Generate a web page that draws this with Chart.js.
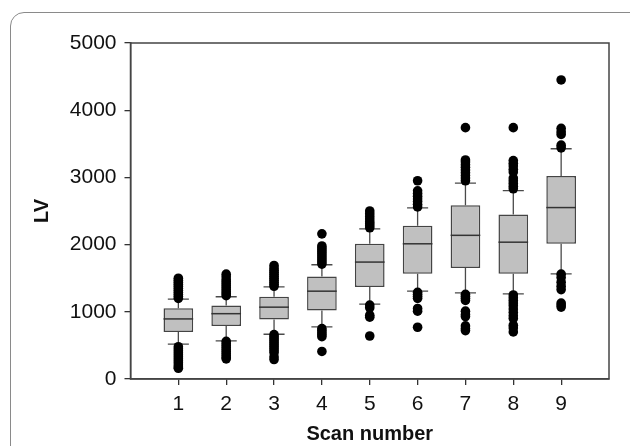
<!DOCTYPE html>
<html>
<head>
<meta charset="utf-8">
<script src="https://cdn.jsdelivr.net/npm/chart.js@4/dist/chart.umd.min.js"></script>
<style>
  html, body { margin: 0; padding: 0; background: #fff; overflow: hidden; }
  #panel { position: absolute; left: 10px; top: 12px; width: 660px; height: 480px;
           border: 1.5px solid #8a8a8a; border-radius: 14px; }
  canvas { position: absolute; left: 0; top: 0; }
</style>
</head>
<body>
<div id="panel"></div>
<canvas id="c" width="630" height="446"></canvas>
<script>
const scans = [1, 2, 3, 4, 5, 6, 7, 8, 9];
const q1 = [700, 787, 884, 1020, 1370, 1565, 1652, 1565, 2012];
const q3 = [1054, 1093, 1224, 1526, 2012, 2279, 2585, 2449, 3022];
const medians = [894, 972, 1069, 1307, 1740, 2012, 2138, 2036, 2551];
const whiskerLow = [520, 568, 666, 777, 1113, 1307, 1283, 1268, 1565];
const whiskerHigh = [1190, 1224, 1370, 1700, 2235, 2546, 2915, 2804, 3426];
const outliers = [
  [1200, 1230, 1260, 1290, 1320, 1350, 1380, 1410, 1440, 1470, 1500,
   480, 450, 420, 390, 360, 330, 300, 270, 240, 210, 180, 160],
  [1240, 1270, 1300, 1330, 1360, 1390, 1420, 1450, 1480, 1520, 1560,
   560, 530, 500, 470, 440, 410, 380, 350, 320, 300],
  [1380, 1410, 1440, 1470, 1500, 1530, 1560, 1590, 1620, 1650, 1690,
   660, 630, 600, 570, 540, 510, 480, 450, 420, 390, 330, 290],
  [1710, 1740, 1770, 1800, 1830, 1860, 1890, 1920, 1950, 1980, 2160,
   750, 720, 690, 660, 630, 410],
  [2250, 2280, 2310, 2340, 2380, 2420, 2460, 2500,
   1100, 1060, 950, 920, 640],
  [2560, 2600, 2640, 2680, 2720, 2760, 2800, 2950,
   1290, 1260, 1230, 1200, 1050, 1010, 770],
  [2950, 2990, 3030, 3070, 3110, 3150, 3190, 3230, 3260, 3740,
   1260, 1230, 1200, 1170, 1010, 960, 930, 790, 750, 720],
  [2830, 2870, 2910, 2950, 2990, 3080, 3120, 3170, 3210, 3250, 3740,
   1250, 1210, 1170, 1130, 1090, 1040, 990, 940, 900, 800, 760, 700],
  [3440, 3480, 3640, 3680, 3730, 4450,
   1560, 1510, 1440, 1380, 1330, 1130, 1100, 1070]
];
const yTicks = [0, 1000, 2000, 3000, 4000, 5000];

const boxData = scans.map((s, i) => ({ x: s, y: [q1[i], q3[i]] }));
const outlierData = [];
scans.forEach((s, i) => outliers[i].forEach(v => outlierData.push({ x: s, y: v })));

// whiskers, caps, medians and the plot frame
const boxLines = {
  id: "boxLines",
  beforeDatasetsDraw(chart) {
    const { ctx, scales: { x, y }, chartArea } = chart;
    ctx.save();
    ctx.strokeStyle = "#4a4a4a";
    ctx.lineWidth = 1.3;
    scans.forEach((s, i) => {
      const px = x.getPixelForValue(s);
      const capL = x.getPixelForValue(s - 0.22), capR = x.getPixelForValue(s + 0.22);
      ctx.beginPath();
      ctx.moveTo(px, y.getPixelForValue(q3[i]));
      ctx.lineTo(px, y.getPixelForValue(whiskerHigh[i]));
      ctx.moveTo(capL, y.getPixelForValue(whiskerHigh[i]));
      ctx.lineTo(capR, y.getPixelForValue(whiskerHigh[i]));
      ctx.moveTo(px, y.getPixelForValue(q1[i]));
      ctx.lineTo(px, y.getPixelForValue(whiskerLow[i]));
      ctx.moveTo(capL, y.getPixelForValue(whiskerLow[i]));
      ctx.lineTo(capR, y.getPixelForValue(whiskerLow[i]));
      ctx.stroke();
    });
    ctx.strokeStyle = "#444";
    ctx.lineWidth = 1.5;
    ctx.strokeRect(chartArea.left, chartArea.top, chartArea.right - chartArea.left, chartArea.bottom - chartArea.top);
    ctx.restore();
  },
  afterDatasetDraw(chart, args) {
    if (args.index !== 0) return;
    const { ctx, scales: { y } } = chart;
    const meta = chart.getDatasetMeta(0);
    ctx.save();
    ctx.strokeStyle = "#333";
    ctx.lineWidth = 1.5;
    scans.forEach((s, i) => {
      const bar = meta.data[i];
      const py = y.getPixelForValue(medians[i]);
      ctx.beginPath();
      ctx.moveTo(bar.x - bar.width / 2, py);
      ctx.lineTo(bar.x + bar.width / 2, py);
      ctx.stroke();
    });
    ctx.restore();
  }
};

Chart.defaults.font.family = "'Liberation Sans', Arial, sans-serif";
Chart.defaults.color = "#111";

new Chart(document.getElementById("c"), {
  type: "bar",
  data: {
    datasets: [
      {
        data: boxData,
        backgroundColor: "#c0c0c0",
        borderColor: "#444",
        borderWidth: 1.5,
        borderSkipped: false,
        barPercentage: 0.62,
        categoryPercentage: 1
      },
      {
        type: "scatter",
        data: outlierData,
        backgroundColor: "#000",
        borderColor: "#000",
        pointRadius: 4.8,
        borderWidth: 0
      }
    ]
  },
  options: {
    responsive: false,
    devicePixelRatio: 1,
    animation: false,
    layout: { padding: { left: 0, top: 43, right: 21, bottom: 0 } },
    plugins: { legend: { display: false }, tooltip: { enabled: false } },
    scales: {
      x: {
        type: "linear",
        min: 0,
        max: 10,
        offset: false,
        afterBuildTicks: s => { s.ticks = scans.map(v => ({ value: v })); },
        afterFit: s => { s.height = 67; },
        ticks: { font: { size: 21 }, padding: 7, maxRotation: 0, callback: v => String(v) },
        grid: { offset: false, drawOnChartArea: false, drawTicks: true, tickLength: 6, color: "#333", lineWidth: 1.3 },
        border: { display: true, color: "#444", width: 1.5 },
        title: { display: true, text: "Scan number", font: { size: 20, weight: "bold" }, padding: { top: 0, bottom: 0 } }
      },
      y: {
        min: 0,
        max: 5000,
        afterBuildTicks: s => { s.ticks = yTicks.map(v => ({ value: v })); },
        afterFit: s => { s.width = 130.5; },
        ticks: { font: { size: 21 }, padding: 8, callback: v => String(v) },
        grid: { drawOnChartArea: false, drawTicks: true, tickLength: 6, color: "#333", lineWidth: 1.3 },
        border: { display: true, color: "#444", width: 1.5 },
        title: { display: true, text: "LV", font: { size: 20, weight: "bold" }, padding: { top: 30, bottom: 30 } }
      }
    }
  },
  plugins: [boxLines]
});
</script>
</body>
</html>
